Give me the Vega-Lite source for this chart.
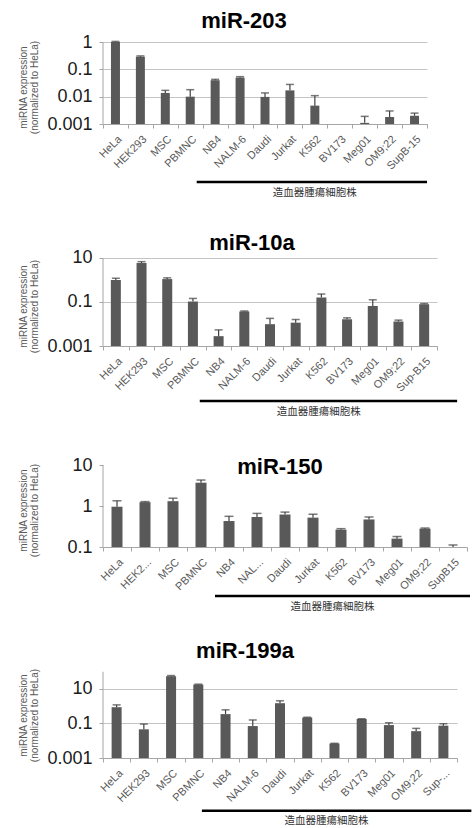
{
  "$schema": "https://vega.github.io/schema/vega-lite/v6.json",
  "padding": {"left": 18, "top": 10, "right": 0, "bottom": 0},
  "bounds": "flush",
  "spacing": 119,
  "datasets": {
    "expr": [
      {"panel": "miR-203", "cell": "HeLa", "value": 1.0, "err": 1.05},
      {"panel": "miR-203", "cell": "HEK293", "value": 0.29, "err": 0.31},
      {"panel": "miR-203", "cell": "MSC", "value": 0.0137, "err": 0.017},
      {"panel": "miR-203", "cell": "PBMNC", "value": 0.010, "err": 0.018},
      {"panel": "miR-203", "cell": "NB4", "value": 0.040, "err": 0.043},
      {"panel": "miR-203", "cell": "NALM-6", "value": 0.050, "err": 0.054},
      {"panel": "miR-203", "cell": "Daudi", "value": 0.0098, "err": 0.0137},
      {"panel": "miR-203", "cell": "Jurkat", "value": 0.017, "err": 0.028},
      {"panel": "miR-203", "cell": "K562", "value": 0.0047, "err": 0.0109},
      {"panel": "miR-203", "cell": "BV173", "value": null, "err": null},
      {"panel": "miR-203", "cell": "Meg01", "value": 0.0011, "err": 0.0019},
      {"panel": "miR-203", "cell": "OM9;22", "value": 0.0018, "err": 0.003},
      {"panel": "miR-203", "cell": "SupB-15", "value": 0.002, "err": 0.0025},
      {"panel": "miR-10a", "cell": "HeLa", "value": 1.0, "err": 1.2},
      {"panel": "miR-10a", "cell": "HEK293", "value": 5.9, "err": 6.8},
      {"panel": "miR-10a", "cell": "MSC", "value": 1.1, "err": 1.25},
      {"panel": "miR-10a", "cell": "PBMNC", "value": 0.105, "err": 0.145},
      {"panel": "miR-10a", "cell": "NB4", "value": 0.0028, "err": 0.0054},
      {"panel": "miR-10a", "cell": "NALM-6", "value": 0.037, "err": 0.039},
      {"panel": "miR-10a", "cell": "Daudi", "value": 0.0098, "err": 0.018},
      {"panel": "miR-10a", "cell": "Jurkat", "value": 0.0115, "err": 0.016},
      {"panel": "miR-10a", "cell": "K562", "value": 0.16, "err": 0.23},
      {"panel": "miR-10a", "cell": "BV173", "value": 0.0164, "err": 0.019},
      {"panel": "miR-10a", "cell": "Meg01", "value": 0.066, "err": 0.126},
      {"panel": "miR-10a", "cell": "OM9;22", "value": 0.013, "err": 0.015},
      {"panel": "miR-10a", "cell": "Sup-B15", "value": 0.079, "err": 0.085},
      {"panel": "miR-150", "cell": "HeLa", "value": 0.96, "err": 1.34},
      {"panel": "miR-150", "cell": "HEK293", "value": 1.24, "err": 1.28},
      {"panel": "miR-150", "cell": "MSC", "value": 1.31, "err": 1.55},
      {"panel": "miR-150", "cell": "PBMNC", "value": 3.7, "err": 4.3},
      {"panel": "miR-150", "cell": "NB4", "value": 0.43, "err": 0.56},
      {"panel": "miR-150", "cell": "NALM-6", "value": 0.54, "err": 0.66},
      {"panel": "miR-150", "cell": "Daudi", "value": 0.62, "err": 0.71},
      {"panel": "miR-150", "cell": "Jurkat", "value": 0.52, "err": 0.63},
      {"panel": "miR-150", "cell": "K562", "value": 0.265, "err": 0.28},
      {"panel": "miR-150", "cell": "BV173", "value": 0.47, "err": 0.54},
      {"panel": "miR-150", "cell": "Meg01", "value": 0.16, "err": 0.18},
      {"panel": "miR-150", "cell": "OM9;22", "value": 0.28, "err": 0.29},
      {"panel": "miR-150", "cell": "SupB15", "value": 0.1, "err": 0.112},
      {"panel": "miR-199a", "cell": "HeLa", "value": 0.88, "err": 1.2},
      {"panel": "miR-199a", "cell": "HEK293", "value": 0.046, "err": 0.093},
      {"panel": "miR-199a", "cell": "MSC", "value": 55, "err": 60},
      {"panel": "miR-199a", "cell": "PBMNC", "value": 18, "err": 19},
      {"panel": "miR-199a", "cell": "NB4", "value": 0.35, "err": 0.62},
      {"panel": "miR-199a", "cell": "NALM-6", "value": 0.071, "err": 0.16},
      {"panel": "miR-199a", "cell": "Daudi", "value": 1.5, "err": 2.07},
      {"panel": "miR-199a", "cell": "Jurkat", "value": 0.22, "err": 0.23},
      {"panel": "miR-199a", "cell": "K562", "value": 0.0069, "err": 0.0071},
      {"panel": "miR-199a", "cell": "BV173", "value": 0.18, "err": 0.19},
      {"panel": "miR-199a", "cell": "Meg01", "value": 0.081, "err": 0.11},
      {"panel": "miR-199a", "cell": "OM9;22", "value": 0.036, "err": 0.052},
      {"panel": "miR-199a", "cell": "Sup-B15", "value": 0.075, "err": 0.097}
    ],
    "groups": [
      {"panel": "miR-203", "label": "造血器腫瘍細胞株", "from": "NB4", "to": "SupB-15"},
      {"panel": "miR-10a", "label": "造血器腫瘍細胞株", "from": "NB4", "to": "Sup-B15"},
      {"panel": "miR-150", "label": "造血器腫瘍細胞株", "from": "NB4", "to": "SupB15"},
      {"panel": "miR-199a", "label": "造血器腫瘍細胞株", "from": "NB4", "to": "Sup-B15"}
    ]
  },
  "vconcat": [
    {
      "width": 324, "height": 82,
      "title": {"text": "miR-203", "dx": -21, "dy": 4},
      "encoding": {"x": {"field": "cell", "type": "nominal", "sort": null,
        "scale": {"domain": ["HeLa","HEK293","MSC","PBMNC","NB4","NALM-6","Daudi","Jurkat","K562","BV173","Meg01","OM9;22","SupB-15"], "paddingInner": 0, "paddingOuter": 0},
        "axis": {"title": null}}},
      "layer": [
        {"data": {"name": "expr"}, "transform": [{"filter": "datum.panel == 'miR-203'"}],
         "mark": {"type": "bar", "size": 9, "color": "#595959"},
         "encoding": {"y": {"field": "value", "type": "quantitative",
            "scale": {"type": "log", "domain": [0.001, 1], "nice": false},
            "axis": {"values": [0.001, 0.01, 0.1, 1], "title": ["miRNA expression", "(normalized to HeLa)"], "titleY": 45}},
           "y2": {"datum": 0.001}}},
        {"data": {"name": "expr"}, "transform": [{"filter": "datum.panel == 'miR-203'"}],
         "mark": {"type": "rule", "color": "#404040", "strokeWidth": 1.2},
         "encoding": {"y": {"field": "value", "type": "quantitative"}, "y2": {"field": "err"}}},
        {"data": {"name": "expr"}, "transform": [{"filter": "datum.panel == 'miR-203'"}],
         "mark": {"type": "tick", "size": 8, "thickness": 1.5, "color": "#404040"},
         "encoding": {"y": {"field": "err", "type": "quantitative"}}},
        {"data": {"name": "groups"}, "transform": [{"filter": "datum.panel == 'miR-203'"}],
         "mark": {"type": "rule", "color": "#a6a6a6", "strokeWidth": 1},
         "encoding": {"x": {"datum": "HeLa", "bandPosition": 0}, "y": {"datum": 0.001}, "y2": {"datum": 1}}},
        {"data": {"name": "groups"}, "transform": [{"filter": "datum.panel == 'miR-203'"}],
         "mark": {"type": "rule", "color": "#000000", "strokeWidth": 2.5, "xOffset": -6, "x2Offset": 12.5, "yOffset": 58, "y2Offset": 58},
         "encoding": {"x": {"field": "from", "type": "nominal", "bandPosition": 0}, "x2": {"field": "to"}, "y": {"datum": 0.001}}},
        {"data": {"name": "groups"}, "transform": [{"filter": "datum.panel == 'miR-203'"}],
         "mark": {"type": "text", "font": "Noto Sans CJK JP", "fontSize": 10.5, "color": "#333333", "align": "center", "baseline": "middle", "xOffset": 112, "yOffset": 69},
         "encoding": {"x": {"field": "from", "type": "nominal", "bandPosition": 0}, "y": {"datum": 0.001}, "text": {"field": "label"}}}
      ]
    },
    {
      "width": 334, "height": 103,
      "title": {"text": "miR-10a", "dx": -18, "dy": 15.5},
      "encoding": {"x": {"field": "cell", "type": "nominal", "sort": null,
        "scale": {"domain": ["HeLa","HEK293","MSC","PBMNC","NB4","NALM-6","Daudi","Jurkat","K562","BV173","Meg01","OM9;22","Sup-B15"], "paddingInner": 0, "paddingOuter": 0},
        "axis": {"title": null}}},
      "layer": [
        {"data": {"name": "expr"}, "transform": [{"filter": "datum.panel == 'miR-10a'"}],
         "mark": {"type": "bar", "size": 10, "color": "#595959"},
         "encoding": {"y": {"field": "value", "type": "quantitative",
            "scale": {"type": "log", "domain": [0.001, 48], "nice": false},
            "axis": {"values": [0.001, 0.1, 10], "title": ["miRNA expression", "(normalized to HeLa)"], "titleY": 63}},
           "y2": {"datum": 0.001}}},
        {"data": {"name": "expr"}, "transform": [{"filter": "datum.panel == 'miR-10a'"}],
         "mark": {"type": "rule", "color": "#404040", "strokeWidth": 1.2},
         "encoding": {"y": {"field": "value", "type": "quantitative"}, "y2": {"field": "err"}}},
        {"data": {"name": "expr"}, "transform": [{"filter": "datum.panel == 'miR-10a'"}],
         "mark": {"type": "tick", "size": 8, "thickness": 1.5, "color": "#404040"},
         "encoding": {"y": {"field": "err", "type": "quantitative"}}},
        {"data": {"name": "groups"}, "transform": [{"filter": "datum.panel == 'miR-10a'"}],
         "mark": {"type": "rule", "color": "#a6a6a6", "strokeWidth": 1},
         "encoding": {"x": {"datum": "HeLa", "bandPosition": 0}, "y": {"datum": 0.001}, "y2": {"datum": 10}}},
        {"data": {"name": "groups"}, "transform": [{"filter": "datum.panel == 'miR-10a'"}],
         "mark": {"type": "rule", "color": "#000000", "strokeWidth": 2.5, "xOffset": -6, "x2Offset": 33, "yOffset": 55, "y2Offset": 55},
         "encoding": {"x": {"field": "from", "type": "nominal", "bandPosition": 0}, "x2": {"field": "to"}, "y": {"datum": 0.001}}},
        {"data": {"name": "groups"}, "transform": [{"filter": "datum.panel == 'miR-10a'"}],
         "mark": {"type": "text", "font": "Noto Sans CJK JP", "fontSize": 10.5, "color": "#333333", "align": "center", "baseline": "middle", "xOffset": 113, "yOffset": 65.7},
         "encoding": {"x": {"field": "from", "type": "nominal", "bandPosition": 0}, "y": {"datum": 0.001}, "text": {"field": "label"}}}
      ]
    },
    {
      "width": 364, "height": 82,
      "title": {"text": "miR-150", "dx": -5, "dy": 26.5},
      "encoding": {"x": {"field": "cell", "type": "nominal", "sort": null,
        "scale": {"domain": ["HeLa","HEK293","MSC","PBMNC","NB4","NALM-6","Daudi","Jurkat","K562","BV173","Meg01","OM9;22","SupB15"], "paddingInner": 0, "paddingOuter": 0},
        "axis": {"title": null, "labelExpr": "datum.value == 'HEK293' ? 'HEK2...' : datum.value == 'NALM-6' ? 'NAL...' : datum.value"}}},
      "layer": [
        {"data": {"name": "expr"}, "transform": [{"filter": "datum.panel == 'miR-150'"}],
         "mark": {"type": "bar", "size": 11, "color": "#595959"},
         "encoding": {"y": {"field": "value", "type": "quantitative",
            "scale": {"type": "log", "domain": [0.1, 10], "nice": false},
            "axis": {"values": [0.1, 1, 10], "title": ["miRNA expression", "(normalized to HeLa)"], "titleY": 45, "grid": false}},
           "y2": {"datum": 0.1}}},
        {"data": {"name": "expr"}, "transform": [{"filter": "datum.panel == 'miR-150'"}],
         "mark": {"type": "rule", "color": "#404040", "strokeWidth": 1.2},
         "encoding": {"y": {"field": "value", "type": "quantitative"}, "y2": {"field": "err"}}},
        {"data": {"name": "expr"}, "transform": [{"filter": "datum.panel == 'miR-150'"}],
         "mark": {"type": "tick", "size": 9, "thickness": 1.5, "color": "#404040"},
         "encoding": {"y": {"field": "err", "type": "quantitative"}}},
        {"data": {"name": "groups"}, "transform": [{"filter": "datum.panel == 'miR-150'"}],
         "mark": {"type": "rule", "color": "#a6a6a6", "strokeWidth": 1},
         "encoding": {"x": {"datum": "HeLa", "bandPosition": 0}, "y": {"datum": 0.1}, "y2": {"datum": 10}}},
        {"data": {"name": "groups"}, "transform": [{"filter": "datum.panel == 'miR-150'"}],
         "mark": {"type": "rule", "color": "#000000", "strokeWidth": 2.5, "xOffset": 0, "x2Offset": 17, "yOffset": 49, "y2Offset": 49},
         "encoding": {"x": {"field": "from", "type": "nominal", "bandPosition": 0}, "x2": {"field": "to"}, "y": {"datum": 0.1}}},
        {"data": {"name": "groups"}, "transform": [{"filter": "datum.panel == 'miR-150'"}],
         "mark": {"type": "text", "font": "Noto Sans CJK JP", "fontSize": 10.5, "color": "#333333", "align": "center", "baseline": "middle", "xOffset": 117.5, "yOffset": 59.7},
         "encoding": {"x": {"field": "from", "type": "nominal", "bandPosition": 0}, "y": {"datum": 0.1}, "text": {"field": "label"}}}
      ]
    },
    {
      "width": 354, "height": 92,
      "title": {"text": "miR-199a", "dx": -35, "dy": 0.5},
      "encoding": {"x": {"field": "cell", "type": "nominal", "sort": null,
        "scale": {"domain": ["HeLa","HEK293","MSC","PBMNC","NB4","NALM-6","Daudi","Jurkat","K562","BV173","Meg01","OM9;22","Sup-B15"], "paddingInner": 0, "paddingOuter": 0},
        "axis": {"title": null, "labelExpr": "datum.value == 'Sup-B15' ? 'Sup-...' : datum.value"}}},
      "layer": [
        {"data": {"name": "expr"}, "transform": [{"filter": "datum.panel == 'miR-199a'"}],
         "mark": {"type": "bar", "size": 10, "color": "#595959"},
         "encoding": {"y": {"field": "value", "type": "quantitative",
            "scale": {"type": "log", "domain": [0.001, 215], "nice": false},
            "axis": {"values": [0.001, 0.1, 10], "title": ["miRNA expression", "(normalized to HeLa)"], "titleY": 49}},
           "y2": {"datum": 0.001}}},
        {"data": {"name": "expr"}, "transform": [{"filter": "datum.panel == 'miR-199a'"}],
         "mark": {"type": "rule", "color": "#404040", "strokeWidth": 1.2},
         "encoding": {"y": {"field": "value", "type": "quantitative"}, "y2": {"field": "err"}}},
        {"data": {"name": "expr"}, "transform": [{"filter": "datum.panel == 'miR-199a'"}],
         "mark": {"type": "tick", "size": 8, "thickness": 1.5, "color": "#404040"},
         "encoding": {"y": {"field": "err", "type": "quantitative"}}},
        {"data": {"name": "groups"}, "transform": [{"filter": "datum.panel == 'miR-199a'"}],
         "mark": {"type": "rule", "color": "#a6a6a6", "strokeWidth": 1},
         "encoding": {"x": {"datum": "HeLa", "bandPosition": 0}, "y": {"datum": 0.001}, "y2": {"datum": 100}}},
        {"data": {"name": "groups"}, "transform": [{"filter": "datum.panel == 'miR-199a'"}],
         "mark": {"type": "rule", "color": "#000000", "strokeWidth": 2.5, "xOffset": -10, "x2Offset": 28, "yOffset": 52.7, "y2Offset": 52.7},
         "encoding": {"x": {"field": "from", "type": "nominal", "bandPosition": 0}, "x2": {"field": "to"}, "y": {"datum": 0.001}}},
        {"data": {"name": "groups"}, "transform": [{"filter": "datum.panel == 'miR-199a'"}],
         "mark": {"type": "text", "font": "Noto Sans CJK JP", "fontSize": 10.5, "color": "#333333", "align": "center", "baseline": "middle", "xOffset": 114.6, "yOffset": 63},
         "encoding": {"x": {"field": "from", "type": "nominal", "bandPosition": 0}, "y": {"datum": 0.001}, "text": {"field": "label"}}}
      ]
    }
  ],
  "config": {
    "view": {"stroke": null},
    "font": "Liberation Sans",
    "title": {"font": "Liberation Sans", "fontSize": 22, "fontWeight": "bold", "color": "#000000", "anchor": "middle", "frame": "group", "baseline": "alphabetic", "offset": 0},
    "axisY": {"format": "~g", "labelFontSize": 18, "labelColor": "#1a1a1a", "labelPadding": 7, "tickSize": 4, "tickColor": "#a6a6a6", "gridColor": "#c4c4c4", "domain": false,
      "titleX": -74.5, "titleAngle": -90, "titleAlign": "center", "titleBaseline": "bottom", "titleFontSize": 10, "titleFontWeight": "normal", "titleColor": "#595959", "titleLineHeight": 11},
    "axisX": {"labelAngle": -45, "labelFontSize": 11, "labelColor": "#595959", "labelPadding": 5, "domainColor": "#a6a6a6", "tickColor": "#a6a6a6", "tickBand": "extent", "tickSize": 4, "grid": false}
  }
}
